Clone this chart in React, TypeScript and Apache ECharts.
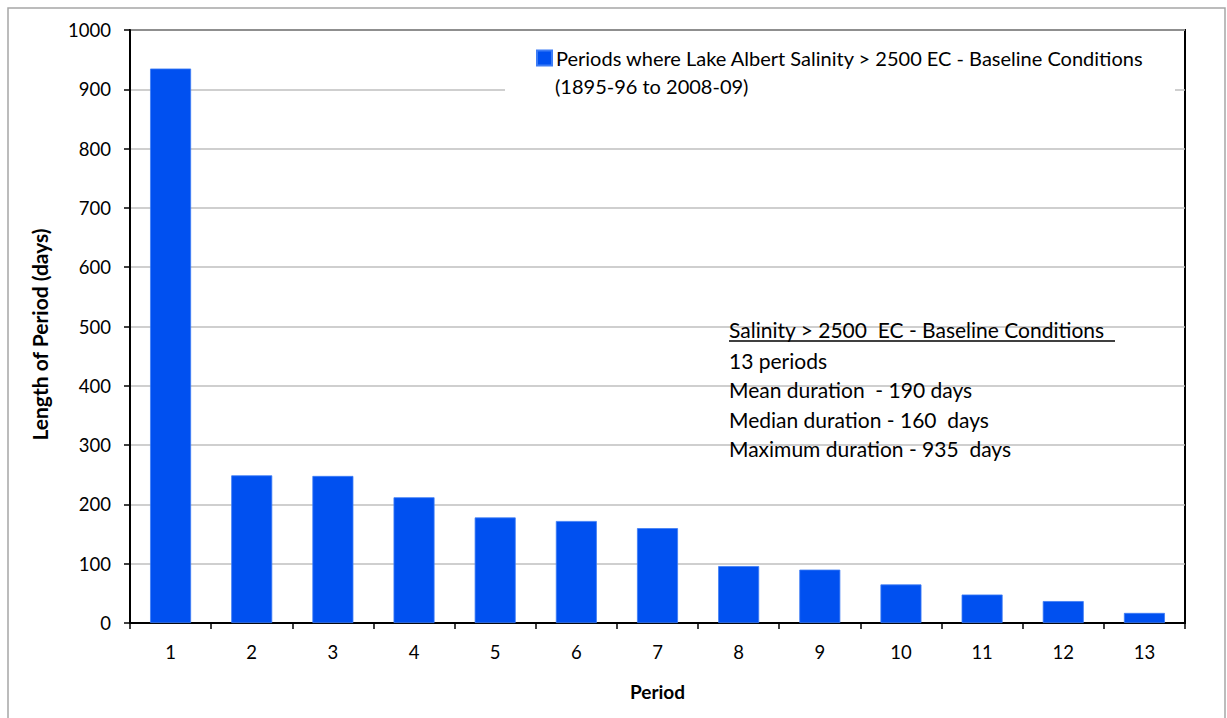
import React, { useEffect, useRef } from "react";
import * as echarts from "echarts";

const periods = ["1", "2", "3", "4", "5", "6", "7", "8", "9", "10", "11", "12", "13"];
const lengths = [935, 249, 248, 212, 178, 172, 160, 96, 90, 65, 48, 37, 17];
const seriesName = "Periods where Lake Albert Salinity > 2500 EC - Baseline Conditions";
const legendLine2 = "(1895-96 to 2008-09)";
const noteTitle = "Salinity > 2500  EC - Baseline Conditions";
const noteLines = [
  "13 periods",
  "Mean duration  - 190 days",
  "Median duration - 160  days",
  "Maximum duration - 935  days",
];

const FONT = "Lato, 'Open Sans', sans-serif";

export default function App() {
  const ref = useRef<HTMLDivElement>(null);
  useEffect(() => {
    if (!ref.current) return;
    const chart = echarts.init(ref.current, undefined, { renderer: "svg" });
    const noteGraphics: any[] = noteLines.map((t, i) => ({
      type: "text",
      x: 729,
      y: 360 + i * 29.5,
      z: 10,
      style: { text: t, fontFamily: FONT, fontSize: 21, fill: "#000", textVerticalAlign: "middle" },
    }));
    chart.setOption({
      animation: false,
      backgroundColor: "#fff",
      textStyle: { fontFamily: FONT },
      grid: {
        left: 130,
        right: 42,
        top: 30,
        bottom: 95,
        show: true,
        borderColor: "#000",
        borderWidth: 2,
        backgroundColor: "transparent",
      },
      legend: {
        left: 536,
        top: 48,
        padding: 0,
        itemWidth: 15,
        itemHeight: 15,
        itemGap: 10,
        icon: "rect",
        textStyle: { fontFamily: FONT, fontSize: 20, color: "#000", padding: [0, 0, 0, -1] },
        data: [seriesName],
        z: 10,
      },
      xAxis: {
        type: "category",
        data: periods,
        name: "Period",
        nameLocation: "middle",
        nameGap: 59,
        nameTextStyle: { fontFamily: FONT, fontSize: 19, fontWeight: "bold", color: "#000" },
        axisLine: { lineStyle: { color: "#000", width: 2 } },
        axisTick: { show: true, length: 6, lineStyle: { color: "#000", width: 1.5 } },
        axisLabel: { fontFamily: FONT, fontSize: 18.5, color: "#000", margin: 19 },
      },
      yAxis: {
        type: "value",
        min: 0,
        max: 1000,
        interval: 100,
        name: "Length of Period (days)",
        nameLocation: "middle",
        nameGap: 80,
        nameTextStyle: { fontFamily: FONT, fontSize: 21, fontWeight: "bold", color: "#000", padding: [0, 0, 0, -16] },
        axisLine: { show: true, lineStyle: { color: "#000", width: 2 } },
        axisTick: { show: true, length: 6, lineStyle: { color: "#000", width: 1.5 } },
        axisLabel: {
          fontFamily: FONT,
          fontSize: 18.5,
          color: "#000",
          margin: 19,
          formatter: (v: number) => String(v),
        },
        splitLine: { show: true, lineStyle: { color: "#bfbfbf", width: 1.5 } },
      },
      series: [
        {
          name: seriesName,
          type: "bar",
          data: lengths,
          barWidth: 41,
          itemStyle: { color: "#0050f0", borderColor: "#3d7cf5", borderWidth: 0.8 },
        },
      ],
      graphic: [
        {
          type: "rect",
          z: 1,
          shape: { x: 505, y: 42, width: 670, height: 58 },
          style: { fill: "#fff" },
        },
        {
          type: "text",
          x: 555,
          y: 86,
          z: 10,
          style: { text: legendLine2, fontFamily: FONT, fontSize: 20, fill: "#000", textVerticalAlign: "middle" },
        },
        {
          type: "text",
          x: 729,
          y: 329,
          z: 10,
          style: { text: noteTitle, fontFamily: FONT, fontSize: 21, fill: "#000", textVerticalAlign: "middle" },
        },
        {
          type: "line",
          z: 10,
          shape: { x1: 729, y1: 341, x2: 1115, y2: 341 },
          style: { stroke: "#000", lineWidth: 1.5 },
        },
        ...noteGraphics,
        {
          type: "rect",
          z: 10,
          shape: { x: 8, y: 8, width: 1217, height: 740 },
          style: { fill: "none", stroke: "#a6a6a6", lineWidth: 1.5 },
        },
      ],
    });
    return () => chart.dispose();
  }, []);
  return (
    <div
      ref={ref}
      style={{ position: "absolute", left: 0, top: 0, width: 1227, height: 718 }}
    />
  );
}
